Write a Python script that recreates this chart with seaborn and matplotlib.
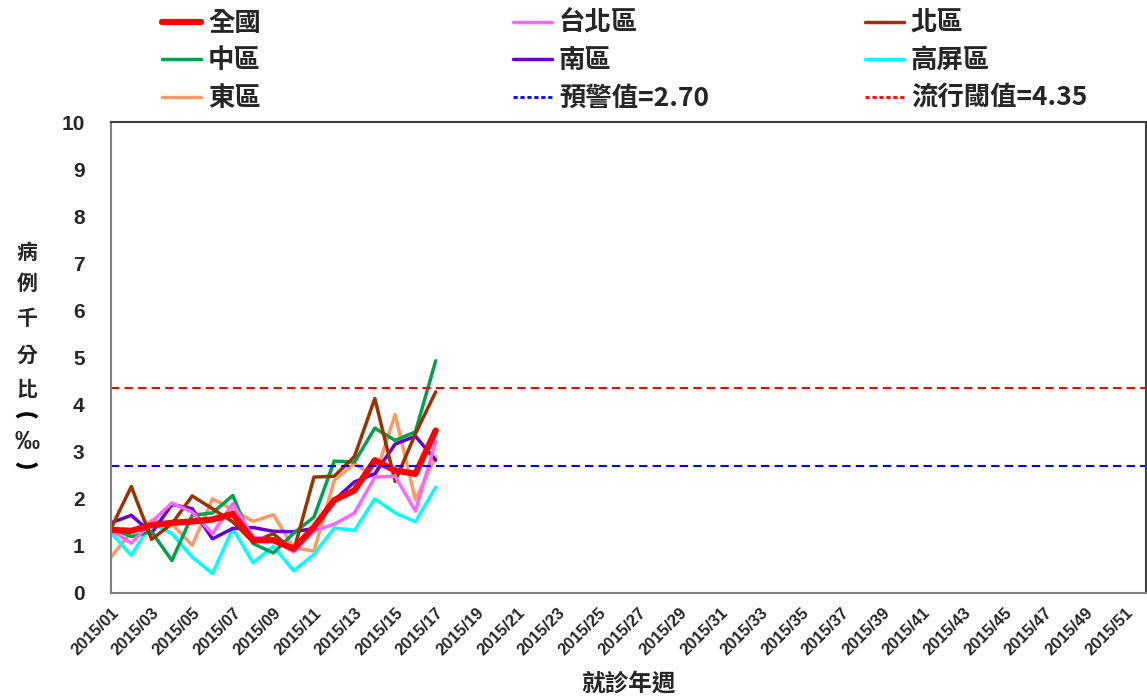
import seaborn as sns
import matplotlib.pyplot as plt
import pandas as pd
from matplotlib.lines import Line2D
from matplotlib.patches import Arc
from matplotlib.transforms import IdentityTransform

weeks = list(range(1, 18))
national = [1.34, 1.32, 1.44, 1.49, 1.52, 1.56, 1.68, 1.12, 1.12, 0.94, 1.40, 1.97, 2.18, 2.82, 2.60, 2.53, 3.45]
taipei = [1.33, 1.06, 1.51, 1.91, 1.72, 1.26, 1.90, 1.19, 1.13, 0.87, 1.32, 1.46, 1.70, 2.46, 2.48, 1.74, 3.21]
north = [1.37, 2.26, 1.14, 1.47, 2.06, 1.79, 1.51, 1.08, 1.26, 0.89, 2.46, 2.48, 2.90, 4.13, 2.37, 3.38, 4.27]
central = [1.37, 1.20, 1.30, 0.69, 1.65, 1.70, 2.07, 1.05, 0.85, 1.27, 1.61, 2.80, 2.78, 3.50, 3.24, 3.42, 4.93]
south = [1.49, 1.65, 1.27, 1.88, 1.79, 1.15, 1.37, 1.39, 1.31, 1.30, 1.37, 1.97, 2.36, 2.53, 3.16, 3.33, 2.82]
kaoping = [1.28, 0.80, 1.49, 1.26, 0.76, 0.41, 1.37, 0.64, 0.99, 0.47, 0.82, 1.38, 1.33, 2.00, 1.70, 1.51, 2.25]
east = [0.76, 1.30, 1.54, 1.47, 1.01, 2.00, 1.77, 1.52, 1.66, 0.96, 0.89, 2.39, 2.75, 2.46, 3.79, 1.98, 2.90]
warning = 2.70
epidemic = 4.35

names = ["全國", "台北區", "北區", "中區", "南區", "高屏區", "東區"]
series = [national, taipei, north, central, south, kaoping, east]
colors = {"全國": "#FF0000", "台北區": "#FF66FF", "北區": "#993300", "中區": "#00A050",
          "南區": "#6600CC", "高屏區": "#00FFFF", "東區": "#FF9966"}
widths = {"全國": 4.5, "台北區": 2.5, "北區": 2.5, "中區": 2.5, "南區": 2.5, "高屏區": 2.5, "東區": 2.5}

rows = []
for n, s in zip(names, series):
    for w, v in zip(weeks, s):
        rows.append({"week": w, "region": n, "value": v})
df = pd.DataFrame(rows)

sns.set_style("white")
plt.rcParams['font.family'] = ['Noto Sans CJK TC', 'Liberation Sans', 'DejaVu Sans']

W, H = 1147, 697
fig = plt.figure(figsize=(W / 100, H / 100), dpi=100)
ax = fig.add_axes([111 / W, 1 - 593 / H, 1035 / W, 471 / H])

# draw in reverse so 全國 ends up on top
for n in ["東區", "高屏區", "南區", "中區", "北區", "台北區", "全國"]:
    sns.lineplot(data=df[df.region == n], x="week", y="value", color=colors[n],
                 linewidth=widths[n], ax=ax, legend=False)

ax.axhline(warning, color="#0000FF", linewidth=1.5, dashes=(4, 2.5))
ax.axhline(epidemic, color="#FF0000", linewidth=1.5, dashes=(4, 2.5))

ax.set_xlim(1, 52)
ax.set_ylim(0, 10)
ax.set_yticks(range(0, 11))
ax.set_yticklabels([str(i) for i in range(0, 11)], fontsize=15, fontweight="bold",
                   fontfamily=['Liberation Sans'])
ticks = list(range(1, 52, 2))
ax.set_xticks(ticks)
ax.set_xticklabels([f"2015/{t:02d}" for t in ticks], rotation=45, ha="right",
                   rotation_mode="anchor", fontsize=12, fontweight="bold",
                   fontfamily=['Liberation Sans'])
ax.tick_params(axis="both", direction="out", length=5, color="#808080", width=1, pad=4)
ax.tick_params(axis="y", pad=14)
ax.set_xlabel("就診年週", fontsize=17, fontweight="bold", labelpad=10)
ax.set_ylabel("")
for side in ["left", "bottom"]:
    ax.spines[side].set_color("#808080")
    ax.spines[side].set_linewidth(1.5)
for side in ["top", "right"]:
    ax.spines[side].set_color("#404040")
    ax.spines[side].set_linewidth(1.5)

# stacked vertical y label: 病例千分比︵‰︶
for ch, yy in zip("病例千分比", [252, 283, 318, 355, 390]):
    fig.text(27 / W, 1 - yy / H, ch, ha="center", va="center", fontsize=15, fontweight="bold")
fig.text(27 / W, 1 - 442 / H, "‰", ha="center", va="center", fontsize=18, fontweight="bold",
         fontfamily=['Liberation Sans'])
fig.add_artist(Arc((27, H - 421), 24, 14, theta1=20, theta2=160, color="black", lw=2.5,
                   transform=IdentityTransform()))
fig.add_artist(Arc((27, H - 460), 24, 14, theta1=200, theta2=340, color="black", lw=2.5,
                   transform=IdentityTransform()))

def handle(n):
    return Line2D([], [], color=colors[n], linewidth=widths[n])

dash_w = Line2D([], [], color="#0000FF", linewidth=2, dashes=(1.5, 1))
dash_e = Line2D([], [], color="#FF0000", linewidth=2, dashes=(1.5, 1))
cols = [
    ([handle("全國"), handle("中區"), handle("東區")], ["全國", "中區", "東區"], 138),
    ([handle("台北區"), handle("南區"), dash_w], ["台北區", "南區", "預警值=2.70"], 489),
    ([handle("北區"), handle("高屏區"), dash_e], ["北區", "高屏區", "流行閾值=4.35"], 841),
]
for hs, ls, x in cols:
    leg = fig.legend(hs, ls, loc="upper left", bbox_to_anchor=(x / W, 1 + 14 / H),
                     frameon=False, handlelength=1.5, handletextpad=0.25, labelspacing=0.40,
                     prop={"size": 19, "weight": "bold"})

fig.savefig("out.png", dpi=100)
